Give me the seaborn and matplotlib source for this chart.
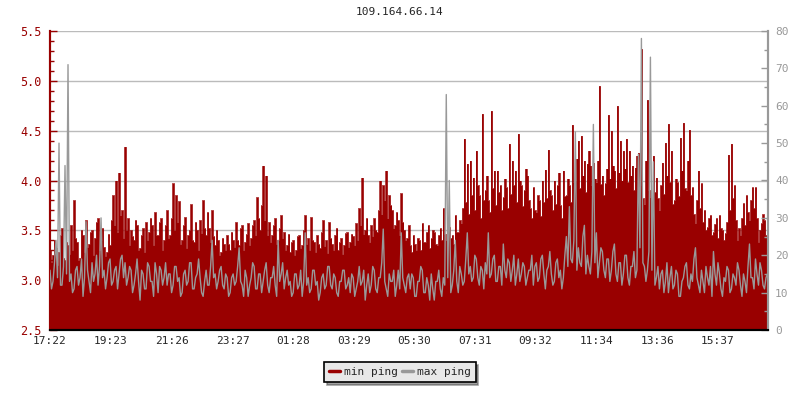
import numpy as np
import pandas as pd
import matplotlib
matplotlib.use("Agg")
import matplotlib.pyplot as plt
from matplotlib.lines import Line2D
import seaborn as sns

# ping samples, one every 3 minutes starting 17:22
title = "109.164.66.14"
step_min = 3
tick_labels = ["17:22", "19:23", "21:26", "23:27", "01:28", "03:29",
               "05:30", "07:31", "09:32", "11:34", "13:36", "15:37"]

# min ping (left axis)
min_ping = [
    3.30, 3.18, 3.25, 3.40, 3.32, 3.15, 3.28, 3.45, 3.52, 3.22, 3.20, 3.38, 3.35, 3.26, 3.55, 3.30, 3.80, 3.42, 3.38, 3.20,
    3.22, 3.50, 3.45, 3.28, 3.60, 3.33, 3.36, 3.48, 3.50, 3.25, 3.42, 3.58, 3.62, 3.30, 3.40, 3.52, 3.33, 3.24, 3.28, 3.46,
    3.35, 3.60, 3.85, 3.55, 4.00, 3.48, 4.08, 3.65, 3.70, 3.42, 4.34, 3.50, 3.62, 3.35, 3.50, 3.44, 3.40, 3.60, 3.55, 3.30,
    3.32, 3.45, 3.52, 3.28, 3.58, 3.40, 3.48, 3.62, 3.55, 3.35, 3.68, 3.45, 3.45, 3.58, 3.62, 3.30, 3.40, 3.55, 3.70, 3.42,
    3.45, 3.62, 3.97, 3.50, 3.85, 3.58, 3.79, 3.36, 3.40, 3.55, 3.63, 3.32, 3.45, 3.50, 3.76, 3.40, 3.38, 3.58, 3.50, 3.30,
    3.60, 3.47, 3.80, 3.52, 3.45, 3.68, 3.52, 3.38, 3.70, 3.44, 3.35, 3.50, 3.40, 3.25, 3.28, 3.42, 3.36, 3.30, 3.45, 3.36,
    3.30, 3.48, 3.40, 3.33, 3.58, 3.40, 3.35, 3.52, 3.55, 3.30, 3.38, 3.46, 3.57, 3.35, 3.42, 3.55, 3.60, 3.45, 3.83, 3.62,
    3.50, 3.75, 4.15, 3.60, 4.05, 3.45, 3.58, 3.38, 3.45, 3.55, 3.62, 3.36, 3.40, 3.52, 3.65, 3.42, 3.48, 3.30, 3.35, 3.46,
    3.28, 3.38, 3.40, 3.25, 3.30, 3.44, 3.45, 3.32, 3.35, 3.50, 3.65, 3.36, 3.42, 3.30, 3.63, 3.40, 3.38, 3.28, 3.45, 3.36,
    3.32, 3.48, 3.60, 3.34, 3.40, 3.27, 3.58, 3.42, 3.36, 3.30, 3.45, 3.52, 3.30, 3.38, 3.42, 3.26, 3.35, 3.47, 3.48, 3.33,
    3.38, 3.46, 3.44, 3.35, 3.57, 3.40, 3.72, 3.55, 4.03, 3.46, 3.50, 3.62, 3.45, 3.38, 3.55, 3.44, 3.62, 3.50, 3.48, 3.70,
    4.00, 3.66, 3.95, 3.80, 4.10, 3.62, 3.85, 3.75, 3.70, 3.52, 3.55, 3.68, 3.60, 3.45, 3.87, 3.58, 3.50, 3.40, 3.42, 3.55,
    3.35, 3.28, 3.45, 3.36, 3.30, 3.42, 3.40, 3.30, 3.57, 3.38, 3.38, 3.48, 3.55, 3.32, 3.42, 3.50, 3.48, 3.36, 3.35, 3.45,
    3.52, 3.40, 3.72, 3.46, 3.40, 3.58, 3.53, 3.42, 3.45, 3.36, 3.65, 3.48, 3.48, 3.60, 3.57, 3.72, 4.42, 3.78, 4.17, 3.66,
    4.20, 3.85, 4.03, 3.70, 4.30, 3.95, 3.85, 3.62, 4.67, 3.80, 3.90, 4.05, 3.80, 3.68, 4.70, 3.92, 4.10, 3.75, 4.10, 3.88,
    3.95, 3.70, 3.83, 4.02, 3.93, 3.72, 4.37, 3.86, 4.20, 3.95, 4.10, 3.78, 4.47, 4.00, 3.95, 3.74, 3.90, 4.12, 4.05, 3.80,
    3.72, 3.62, 3.93, 3.70, 3.68, 3.85, 3.80, 3.64, 4.00, 3.78, 4.11, 3.82, 4.31, 3.90, 3.85, 3.70, 4.00, 3.76, 3.95, 4.08,
    3.75, 3.62, 4.10, 3.84, 3.85, 4.02, 3.95, 3.78, 4.56, 3.98, 4.00, 4.22, 4.40, 3.92, 4.45, 4.05, 4.20, 3.88, 4.17, 4.30,
    4.15, 3.95, 4.18, 4.02, 3.98, 4.20, 4.95, 3.96, 4.05, 3.85, 3.97, 4.12, 4.66, 4.02, 4.50, 4.15, 4.10, 3.92, 4.75, 4.08,
    4.40, 4.00, 4.30, 4.12, 4.42, 3.98, 4.30, 4.05, 4.15, 3.90, 4.13, 4.25, 4.28, 3.95, 5.32, 3.82, 3.76, 4.20, 4.81, 3.90,
    3.83, 3.70, 4.25, 3.88, 4.03, 3.82, 3.70, 3.95, 4.18, 3.86, 4.38, 4.05, 4.57, 3.98, 4.30, 3.76, 3.80, 4.02, 3.98, 3.84,
    4.43, 4.10, 4.58, 3.92, 3.90, 4.20, 4.51, 3.85, 3.93, 3.66, 3.57, 3.80, 4.10, 3.72, 3.97, 3.58, 3.70, 3.50, 3.53, 3.62,
    3.65, 3.45, 3.48, 3.56, 3.62, 3.42, 3.65, 3.52, 3.50, 3.40, 3.47, 3.58, 4.26, 3.70, 4.37, 3.82, 3.95, 3.60, 3.40, 3.52,
    3.45, 3.62, 3.77, 3.55, 3.85, 3.68, 3.60, 3.80, 3.93, 3.72, 3.93, 3.62, 3.38, 3.50, 3.57, 3.66, 3.60, 3.45, 3.40, 3.55,
]

# max ping (right axis)
max_ping = [
    16, 11, 13, 18, 24, 14, 50, 12, 12, 17, 44, 15, 71, 13, 15, 10, 11, 16, 17, 12,
    14, 19, 9, 14, 29, 16, 13, 10, 18, 13, 15, 20, 12, 17, 30, 14, 16, 11, 14, 18,
    19, 12, 13, 16, 17, 11, 15, 19, 20, 14, 18, 12, 14, 17, 16, 10, 12, 15, 19, 13,
    8, 16, 15, 11, 11, 18, 17, 13, 13, 9, 18, 15, 10, 17, 16, 12, 14, 18, 12, 15,
    15, 10, 12, 17, 17, 13, 14, 9, 10, 15, 16, 12, 13, 18, 18, 11, 11, 14, 15, 19,
    14, 10, 9, 13, 16, 12, 12, 17, 24, 14, 15, 11, 13, 16, 17, 12, 11, 15, 14, 9,
    10, 14, 15, 12, 13, 17, 22, 13, 12, 9, 16, 14, 9, 12, 14, 18, 17, 11, 11, 15,
    15, 10, 13, 16, 18, 12, 10, 14, 14, 17, 12, 9, 24, 13, 15, 18, 11, 14, 16, 12,
    13, 9, 10, 15, 15, 11, 12, 16, 9, 13, 26, 12, 14, 10, 11, 16, 16, 12, 13, 8,
    10, 14, 15, 11, 12, 17, 17, 12, 11, 15, 14, 10, 9, 13, 13, 16, 16, 11, 12, 14,
    10, 15, 14, 9, 11, 13, 17, 12, 13, 16, 8, 12, 15, 10, 12, 17, 16, 11, 10, 14,
    14, 18, 27, 13, 11, 9, 15, 13, 13, 16, 9, 12, 16, 11, 26, 14, 12, 10, 14, 15,
    11, 15, 14, 9, 9, 13, 13, 17, 16, 10, 10, 14, 12, 8, 15, 11, 8, 13, 13, 16,
    11, 9, 14, 12, 63, 14, 40, 10, 12, 16, 24, 13, 10, 17, 15, 12, 13, 19, 26, 15,
    17, 13, 14, 20, 19, 14, 12, 17, 16, 11, 18, 15, 26, 14, 15, 19, 20, 13, 13, 17,
    17, 12, 23, 16, 14, 19, 18, 13, 16, 20, 12, 15, 19, 13, 15, 18, 17, 12, 14, 16,
    16, 20, 12, 17, 18, 13, 14, 19, 20, 15, 11, 16, 17, 21, 15, 12, 13, 18, 19, 14,
    16, 11, 14, 20, 25, 17, 33, 19, 18, 24, 53, 16, 22, 18, 17, 25, 28, 15, 20, 17,
    15, 21, 55, 18, 26, 14, 18, 22, 21, 16, 14, 19, 19, 13, 16, 21, 23, 15, 13, 18,
    18, 12, 15, 20, 20, 14, 12, 17, 17, 21, 14, 16, 47, 22, 78, 18, 17, 13, 16, 21,
    73, 16, 45, 12, 14, 17, 11, 15, 16, 10, 13, 18, 10, 14, 17, 11, 12, 16, 15, 9,
    9, 13, 14, 17, 18, 12, 11, 15, 13, 19, 22, 14, 12, 10, 16, 13, 10, 17, 14, 12,
    17, 9, 21, 15, 12, 18, 15, 11, 9, 14, 13, 17, 16, 10, 11, 15, 14, 12, 18, 16,
    12, 9, 15, 13, 10, 17, 23, 14, 14, 11, 19, 15, 12, 18, 16, 12, 11, 14, 15, 17,
]

assert len(min_ping) == len(max_ping), (len(min_ping), len(max_ping))

RED = "#990000"
GRAY = "#999999"

df = pd.DataFrame({"t": np.arange(len(min_ping)) * step_min,
                   "min": min_ping, "max": max_ping})

sns.set_style("white")
plt.rcParams["font.family"] = ["DejaVu Sans Mono"]
plt.rcParams["font.size"] = 8

fig = plt.figure(figsize=(8, 4), dpi=100)
ax = fig.add_axes([0.0625, 0.175, 0.8975, 0.7475])

ax.fill_between(df["t"], 2.5, df["min"], step="mid", color=RED, lw=0, zorder=2)
sns.lineplot(data=df, x="t", y="min", ax=ax, color=RED, lw=0.5,
             drawstyle="steps-mid", zorder=2)
ax.set_ylim(2.5, 5.5)
ax.set_xlim(0, 1435)
ax.set_yticks(np.arange(2.5, 5.51, 0.5))
ax.set_yticks(np.arange(2.5, 5.51, 0.1), minor=True)
ax.yaxis.grid(True, color="#bbbbbb", lw=1)
ax.set_axisbelow(True)

# x ticks from clock labels
start = 17 * 60 + 22
pos = [((int(s[:2]) * 60 + int(s[3:])) - start) % 1440 for s in tick_labels]
ax.set_xticks(pos)
ax.set_xticklabels(tick_labels)
ax.set_xlabel("")
ax.set_ylabel("")

ax2 = ax.twinx()
sns.lineplot(data=df, x="t", y="max", ax=ax2, color=GRAY, lw=1.0, zorder=3)
ax2.set_ylim(0, 80)
ax2.set_yticks(np.arange(0, 81, 10))
ax2.set_yticks(np.arange(0, 81, 5), minor=True)
ax2.set_ylabel("")

for a in (ax, ax2):
    a.spines["top"].set_visible(False)
    a.spines["left"].set_color(RED)
    a.spines["left"].set_linewidth(1.5)
    a.spines["right"].set_color(GRAY)
    a.spines["right"].set_linewidth(1.5)
    a.spines["bottom"].set_color("black")
    a.spines["bottom"].set_linewidth(1.5)

ax.tick_params(axis="y", which="major", direction="in", length=5, width=1,
               color=RED, labelcolor=RED, labelsize=8.5, pad=6)
ax.tick_params(axis="y", which="minor", direction="in", length=3, width=1,
               color=RED, left=True)
ax.tick_params(axis="x", direction="in", length=5, width=1, color="black",
               labelsize=8, pad=4)
ax2.tick_params(axis="y", which="major", direction="in", length=5, width=1,
                color=GRAY, labelcolor=GRAY, labelsize=8, pad=5)
ax2.tick_params(axis="y", which="minor", direction="in", length=3, width=1,
                color=GRAY, right=True)

fig.text(0.5, 0.97, title, ha="center", va="center", fontsize=8)

handles = [Line2D([], [], color=RED, lw=2.5), Line2D([], [], color=GRAY, lw=2.5)]
leg = fig.legend(handles, ["min ping", "max ping"], loc="center",
                 bbox_to_anchor=(0.5, 0.07), ncol=2, frameon=True,
                 fancybox=False, shadow=True, handlelength=1.0,
                 handletextpad=0.3, columnspacing=0.4, borderpad=0.45,
                 fontsize=8)
leg.get_frame().set_facecolor("#e8e8e8")
leg.get_frame().set_edgecolor("black")
leg.get_frame().set_linewidth(1.2)

fig.savefig("out.png", dpi=100)
